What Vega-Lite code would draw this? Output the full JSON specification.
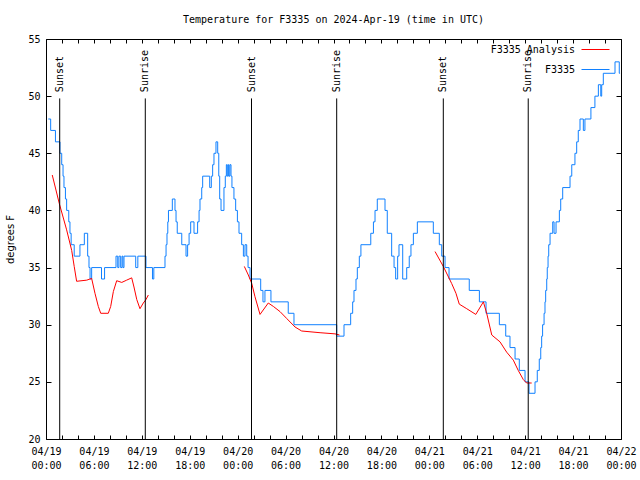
{
  "$schema": "https://vega.github.io/schema/vega-lite/v6.json",
  "width": 575,
  "height": 400,
  "autosize": {"type": "none"},
  "padding": {"left": 46, "top": 39, "right": 19, "bottom": 41},
  "background": "white",
  "title": {"text": "Temperature for F3335 on 2024-Apr-19 (time in UTC)", "font": "DejaVu Sans Mono", "fontSize": 10, "fontWeight": "normal", "color": "black", "anchor": "middle", "offset": 9},
  "config": {
    "view": {"stroke": "black", "strokeWidth": 1},
    "font": "DejaVu Sans Mono",
    "axis": {"grid": false, "domain": false, "labelFont": "DejaVu Sans Mono", "labelFontSize": 10, "labelColor": "black", "tickColor": "black", "tickWidth": 1}
  },
  "datasets": {
    "obs": [
      {"time": "2024-04-19T00:17Z", "temp": 48, "series": "F3335"},
      {"time": "2024-04-19T00:35Z", "temp": 47, "series": "F3335"},
      {"time": "2024-04-19T01:11Z", "temp": 46, "series": "F3335"},
      {"time": "2024-04-19T01:45Z", "temp": 45, "series": "F3335"},
      {"time": "2024-04-19T01:58Z", "temp": 44, "series": "F3335"},
      {"time": "2024-04-19T02:08Z", "temp": 43, "series": "F3335"},
      {"time": "2024-04-19T02:15Z", "temp": 42, "series": "F3335"},
      {"time": "2024-04-19T02:26Z", "temp": 41, "series": "F3335"},
      {"time": "2024-04-19T02:35Z", "temp": 40, "series": "F3335"},
      {"time": "2024-04-19T02:51Z", "temp": 39, "series": "F3335"},
      {"time": "2024-04-19T03:00Z", "temp": 38, "series": "F3335"},
      {"time": "2024-04-19T03:09Z", "temp": 37, "series": "F3335"},
      {"time": "2024-04-19T03:32Z", "temp": 36, "series": "F3335"},
      {"time": "2024-04-19T04:15Z", "temp": 37, "series": "F3335"},
      {"time": "2024-04-19T04:48Z", "temp": 38, "series": "F3335"},
      {"time": "2024-04-19T05:13Z", "temp": 36, "series": "F3335"},
      {"time": "2024-04-19T05:23Z", "temp": 35, "series": "F3335"},
      {"time": "2024-04-19T05:31Z", "temp": 34, "series": "F3335"},
      {"time": "2024-04-19T05:43Z", "temp": 35, "series": "F3335"},
      {"time": "2024-04-19T06:57Z", "temp": 34, "series": "F3335"},
      {"time": "2024-04-19T07:20Z", "temp": 35, "series": "F3335"},
      {"time": "2024-04-19T08:46Z", "temp": 36, "series": "F3335"},
      {"time": "2024-04-19T08:59Z", "temp": 35, "series": "F3335"},
      {"time": "2024-04-19T09:08Z", "temp": 36, "series": "F3335"},
      {"time": "2024-04-19T09:21Z", "temp": 35, "series": "F3335"},
      {"time": "2024-04-19T09:31Z", "temp": 36, "series": "F3335"},
      {"time": "2024-04-19T09:38Z", "temp": 35, "series": "F3335"},
      {"time": "2024-04-19T09:46Z", "temp": 36, "series": "F3335"},
      {"time": "2024-04-19T11:14Z", "temp": 35, "series": "F3335"},
      {"time": "2024-04-19T11:30Z", "temp": 36, "series": "F3335"},
      {"time": "2024-04-19T12:31Z", "temp": 35, "series": "F3335"},
      {"time": "2024-04-19T13:20Z", "temp": 34, "series": "F3335"},
      {"time": "2024-04-19T13:30Z", "temp": 35, "series": "F3335"},
      {"time": "2024-04-19T14:54Z", "temp": 36, "series": "F3335"},
      {"time": "2024-04-19T15:02Z", "temp": 37, "series": "F3335"},
      {"time": "2024-04-19T15:09Z", "temp": 38, "series": "F3335"},
      {"time": "2024-04-19T15:15Z", "temp": 39, "series": "F3335"},
      {"time": "2024-04-19T15:20Z", "temp": 40, "series": "F3335"},
      {"time": "2024-04-19T15:49Z", "temp": 41, "series": "F3335"},
      {"time": "2024-04-19T16:09Z", "temp": 40, "series": "F3335"},
      {"time": "2024-04-19T16:17Z", "temp": 39, "series": "F3335"},
      {"time": "2024-04-19T16:26Z", "temp": 38, "series": "F3335"},
      {"time": "2024-04-19T17:00Z", "temp": 37, "series": "F3335"},
      {"time": "2024-04-19T17:32Z", "temp": 36, "series": "F3335"},
      {"time": "2024-04-19T17:44Z", "temp": 37, "series": "F3335"},
      {"time": "2024-04-19T17:55Z", "temp": 38, "series": "F3335"},
      {"time": "2024-04-19T18:07Z", "temp": 39, "series": "F3335"},
      {"time": "2024-04-19T18:32Z", "temp": 38, "series": "F3335"},
      {"time": "2024-04-19T18:59Z", "temp": 39, "series": "F3335"},
      {"time": "2024-04-19T19:10Z", "temp": 40, "series": "F3335"},
      {"time": "2024-04-19T19:17Z", "temp": 41, "series": "F3335"},
      {"time": "2024-04-19T19:30Z", "temp": 42, "series": "F3335"},
      {"time": "2024-04-19T19:37Z", "temp": 43, "series": "F3335"},
      {"time": "2024-04-19T20:30Z", "temp": 42, "series": "F3335"},
      {"time": "2024-04-19T20:42Z", "temp": 43, "series": "F3335"},
      {"time": "2024-04-19T20:52Z", "temp": 44, "series": "F3335"},
      {"time": "2024-04-19T21:02Z", "temp": 45, "series": "F3335"},
      {"time": "2024-04-19T21:17Z", "temp": 46, "series": "F3335"},
      {"time": "2024-04-19T21:30Z", "temp": 45, "series": "F3335"},
      {"time": "2024-04-19T21:38Z", "temp": 43, "series": "F3335"},
      {"time": "2024-04-19T21:45Z", "temp": 41, "series": "F3335"},
      {"time": "2024-04-19T21:55Z", "temp": 40, "series": "F3335"},
      {"time": "2024-04-19T22:17Z", "temp": 42, "series": "F3335"},
      {"time": "2024-04-19T22:27Z", "temp": 43, "series": "F3335"},
      {"time": "2024-04-19T22:35Z", "temp": 44, "series": "F3335"},
      {"time": "2024-04-19T22:42Z", "temp": 43, "series": "F3335"},
      {"time": "2024-04-19T22:50Z", "temp": 44, "series": "F3335"},
      {"time": "2024-04-19T22:55Z", "temp": 43, "series": "F3335"},
      {"time": "2024-04-19T23:02Z", "temp": 44, "series": "F3335"},
      {"time": "2024-04-19T23:10Z", "temp": 43, "series": "F3335"},
      {"time": "2024-04-19T23:17Z", "temp": 42, "series": "F3335"},
      {"time": "2024-04-19T23:32Z", "temp": 41, "series": "F3335"},
      {"time": "2024-04-19T23:45Z", "temp": 40, "series": "F3335"},
      {"time": "2024-04-19T23:58Z", "temp": 39, "series": "F3335"},
      {"time": "2024-04-20T00:10Z", "temp": 38, "series": "F3335"},
      {"time": "2024-04-20T00:30Z", "temp": 37, "series": "F3335"},
      {"time": "2024-04-20T00:43Z", "temp": 36, "series": "F3335"},
      {"time": "2024-04-20T00:55Z", "temp": 37, "series": "F3335"},
      {"time": "2024-04-20T01:08Z", "temp": 36, "series": "F3335"},
      {"time": "2024-04-20T01:18Z", "temp": 35, "series": "F3335"},
      {"time": "2024-04-20T01:33Z", "temp": 34, "series": "F3335"},
      {"time": "2024-04-20T02:53Z", "temp": 33, "series": "F3335"},
      {"time": "2024-04-20T03:10Z", "temp": 32, "series": "F3335"},
      {"time": "2024-04-20T03:25Z", "temp": 33, "series": "F3335"},
      {"time": "2024-04-20T04:10Z", "temp": 32, "series": "F3335"},
      {"time": "2024-04-20T06:20Z", "temp": 31, "series": "F3335"},
      {"time": "2024-04-20T07:03Z", "temp": 30, "series": "F3335"},
      {"time": "2024-04-20T12:24Z", "temp": 29, "series": "F3335"},
      {"time": "2024-04-20T13:19Z", "temp": 30, "series": "F3335"},
      {"time": "2024-04-20T14:09Z", "temp": 31, "series": "F3335"},
      {"time": "2024-04-20T14:24Z", "temp": 32, "series": "F3335"},
      {"time": "2024-04-20T14:34Z", "temp": 33, "series": "F3335"},
      {"time": "2024-04-20T14:49Z", "temp": 34, "series": "F3335"},
      {"time": "2024-04-20T14:59Z", "temp": 35, "series": "F3335"},
      {"time": "2024-04-20T15:14Z", "temp": 36, "series": "F3335"},
      {"time": "2024-04-20T15:26Z", "temp": 37, "series": "F3335"},
      {"time": "2024-04-20T16:40Z", "temp": 38, "series": "F3335"},
      {"time": "2024-04-20T17:00Z", "temp": 39, "series": "F3335"},
      {"time": "2024-04-20T17:12Z", "temp": 40, "series": "F3335"},
      {"time": "2024-04-20T17:29Z", "temp": 41, "series": "F3335"},
      {"time": "2024-04-20T18:27Z", "temp": 40, "series": "F3335"},
      {"time": "2024-04-20T18:44Z", "temp": 38, "series": "F3335"},
      {"time": "2024-04-20T19:17Z", "temp": 36, "series": "F3335"},
      {"time": "2024-04-20T19:35Z", "temp": 35, "series": "F3335"},
      {"time": "2024-04-20T19:47Z", "temp": 34, "series": "F3335"},
      {"time": "2024-04-20T20:02Z", "temp": 36, "series": "F3335"},
      {"time": "2024-04-20T20:12Z", "temp": 37, "series": "F3335"},
      {"time": "2024-04-20T20:40Z", "temp": 34, "series": "F3335"},
      {"time": "2024-04-20T21:10Z", "temp": 35, "series": "F3335"},
      {"time": "2024-04-20T21:29Z", "temp": 36, "series": "F3335"},
      {"time": "2024-04-20T21:42Z", "temp": 37, "series": "F3335"},
      {"time": "2024-04-20T22:00Z", "temp": 38, "series": "F3335"},
      {"time": "2024-04-20T22:30Z", "temp": 39, "series": "F3335"},
      {"time": "2024-04-21T00:30Z", "temp": 38, "series": "F3335"},
      {"time": "2024-04-21T01:15Z", "temp": 37, "series": "F3335"},
      {"time": "2024-04-21T01:33Z", "temp": 36, "series": "F3335"},
      {"time": "2024-04-21T01:58Z", "temp": 35, "series": "F3335"},
      {"time": "2024-04-21T02:28Z", "temp": 34, "series": "F3335"},
      {"time": "2024-04-21T05:00Z", "temp": 33, "series": "F3335"},
      {"time": "2024-04-21T06:16Z", "temp": 32, "series": "F3335"},
      {"time": "2024-04-21T07:06Z", "temp": 31, "series": "F3335"},
      {"time": "2024-04-21T08:46Z", "temp": 30, "series": "F3335"},
      {"time": "2024-04-21T09:34Z", "temp": 29, "series": "F3335"},
      {"time": "2024-04-21T10:06Z", "temp": 28, "series": "F3335"},
      {"time": "2024-04-21T10:44Z", "temp": 27, "series": "F3335"},
      {"time": "2024-04-21T11:16Z", "temp": 26, "series": "F3335"},
      {"time": "2024-04-21T11:59Z", "temp": 25, "series": "F3335"},
      {"time": "2024-04-21T12:29Z", "temp": 24, "series": "F3335"},
      {"time": "2024-04-21T13:14Z", "temp": 25, "series": "F3335"},
      {"time": "2024-04-21T13:31Z", "temp": 26, "series": "F3335"},
      {"time": "2024-04-21T13:46Z", "temp": 27, "series": "F3335"},
      {"time": "2024-04-21T13:57Z", "temp": 28, "series": "F3335"},
      {"time": "2024-04-21T14:04Z", "temp": 29, "series": "F3335"},
      {"time": "2024-04-21T14:11Z", "temp": 30, "series": "F3335"},
      {"time": "2024-04-21T14:22Z", "temp": 31, "series": "F3335"},
      {"time": "2024-04-21T14:29Z", "temp": 32, "series": "F3335"},
      {"time": "2024-04-21T14:34Z", "temp": 33, "series": "F3335"},
      {"time": "2024-04-21T14:42Z", "temp": 34, "series": "F3335"},
      {"time": "2024-04-21T14:46Z", "temp": 35, "series": "F3335"},
      {"time": "2024-04-21T14:52Z", "temp": 36, "series": "F3335"},
      {"time": "2024-04-21T14:57Z", "temp": 37, "series": "F3335"},
      {"time": "2024-04-21T15:07Z", "temp": 38, "series": "F3335"},
      {"time": "2024-04-21T15:27Z", "temp": 39, "series": "F3335"},
      {"time": "2024-04-21T15:37Z", "temp": 38, "series": "F3335"},
      {"time": "2024-04-21T15:52Z", "temp": 39, "series": "F3335"},
      {"time": "2024-04-21T16:17Z", "temp": 40, "series": "F3335"},
      {"time": "2024-04-21T16:27Z", "temp": 41, "series": "F3335"},
      {"time": "2024-04-21T16:42Z", "temp": 42, "series": "F3335"},
      {"time": "2024-04-21T17:37Z", "temp": 43, "series": "F3335"},
      {"time": "2024-04-21T17:50Z", "temp": 44, "series": "F3335"},
      {"time": "2024-04-21T18:14Z", "temp": 45, "series": "F3335"},
      {"time": "2024-04-21T18:27Z", "temp": 46, "series": "F3335"},
      {"time": "2024-04-21T18:39Z", "temp": 47, "series": "F3335"},
      {"time": "2024-04-21T18:52Z", "temp": 48, "series": "F3335"},
      {"time": "2024-04-21T19:17Z", "temp": 47, "series": "F3335"},
      {"time": "2024-04-21T19:29Z", "temp": 48, "series": "F3335"},
      {"time": "2024-04-21T20:14Z", "temp": 49, "series": "F3335"},
      {"time": "2024-04-21T20:44Z", "temp": 50, "series": "F3335"},
      {"time": "2024-04-21T21:10Z", "temp": 51, "series": "F3335"},
      {"time": "2024-04-21T21:28Z", "temp": 50, "series": "F3335"},
      {"time": "2024-04-21T21:35Z", "temp": 51, "series": "F3335"},
      {"time": "2024-04-21T21:47Z", "temp": 52, "series": "F3335"},
      {"time": "2024-04-21T23:15Z", "temp": 53, "series": "F3335"},
      {"time": "2024-04-21T23:47Z", "temp": 52, "series": "F3335"},
      {"time": "2024-04-21T23:53Z", "temp": 52, "series": "F3335"}
    ],
    "analysis": [
      {"time": "2024-04-19T00:47Z", "temp": 43.1, "seg": 1, "series": "F3335 Analysis"},
      {"time": "2024-04-19T01:40Z", "temp": 40.6, "seg": 1, "series": "F3335 Analysis"},
      {"time": "2024-04-19T02:35Z", "temp": 38.3, "seg": 1, "series": "F3335 Analysis"},
      {"time": "2024-04-19T03:13Z", "temp": 36.5, "seg": 1, "series": "F3335 Analysis"},
      {"time": "2024-04-19T03:32Z", "temp": 35.1, "seg": 1, "series": "F3335 Analysis"},
      {"time": "2024-04-19T03:50Z", "temp": 33.8, "seg": 1, "series": "F3335 Analysis"},
      {"time": "2024-04-19T05:06Z", "temp": 33.9, "seg": 1, "series": "F3335 Analysis"},
      {"time": "2024-04-19T05:43Z", "temp": 34.05, "seg": 1, "series": "F3335 Analysis"},
      {"time": "2024-04-19T06:08Z", "temp": 32.75, "seg": 1, "series": "F3335 Analysis"},
      {"time": "2024-04-19T06:33Z", "temp": 31.6, "seg": 1, "series": "F3335 Analysis"},
      {"time": "2024-04-19T06:51Z", "temp": 31.0, "seg": 1, "series": "F3335 Analysis"},
      {"time": "2024-04-19T07:48Z", "temp": 31.0, "seg": 1, "series": "F3335 Analysis"},
      {"time": "2024-04-19T08:06Z", "temp": 31.6, "seg": 1, "series": "F3335 Analysis"},
      {"time": "2024-04-19T08:26Z", "temp": 32.9, "seg": 1, "series": "F3335 Analysis"},
      {"time": "2024-04-19T08:51Z", "temp": 33.85, "seg": 1, "series": "F3335 Analysis"},
      {"time": "2024-04-19T09:29Z", "temp": 33.7, "seg": 1, "series": "F3335 Analysis"},
      {"time": "2024-04-19T10:06Z", "temp": 33.9, "seg": 1, "series": "F3335 Analysis"},
      {"time": "2024-04-19T10:44Z", "temp": 34.1, "seg": 1, "series": "F3335 Analysis"},
      {"time": "2024-04-19T11:01Z", "temp": 33.3, "seg": 1, "series": "F3335 Analysis"},
      {"time": "2024-04-19T11:22Z", "temp": 32.2, "seg": 1, "series": "F3335 Analysis"},
      {"time": "2024-04-19T11:46Z", "temp": 31.4, "seg": 1, "series": "F3335 Analysis"},
      {"time": "2024-04-19T12:11Z", "temp": 31.9, "seg": 1, "series": "F3335 Analysis"},
      {"time": "2024-04-19T12:31Z", "temp": 32.2, "seg": 1, "series": "F3335 Analysis"},
      {"time": "2024-04-19T12:49Z", "temp": 32.6, "seg": 1, "series": "F3335 Analysis"},
      {"time": "2024-04-20T00:50Z", "temp": 35.1, "seg": 2, "series": "F3335 Analysis"},
      {"time": "2024-04-20T01:20Z", "temp": 34.35, "seg": 2, "series": "F3335 Analysis"},
      {"time": "2024-04-20T01:46Z", "temp": 33.6, "seg": 2, "series": "F3335 Analysis"},
      {"time": "2024-04-20T02:10Z", "temp": 32.45, "seg": 2, "series": "F3335 Analysis"},
      {"time": "2024-04-20T02:48Z", "temp": 30.9, "seg": 2, "series": "F3335 Analysis"},
      {"time": "2024-04-20T03:50Z", "temp": 31.9, "seg": 2, "series": "F3335 Analysis"},
      {"time": "2024-04-20T04:28Z", "temp": 31.6, "seg": 2, "series": "F3335 Analysis"},
      {"time": "2024-04-20T05:18Z", "temp": 31.15, "seg": 2, "series": "F3335 Analysis"},
      {"time": "2024-04-20T06:08Z", "temp": 30.55, "seg": 2, "series": "F3335 Analysis"},
      {"time": "2024-04-20T07:11Z", "temp": 29.8, "seg": 2, "series": "F3335 Analysis"},
      {"time": "2024-04-20T08:01Z", "temp": 29.45, "seg": 2, "series": "F3335 Analysis"},
      {"time": "2024-04-20T10:19Z", "temp": 29.3, "seg": 2, "series": "F3335 Analysis"},
      {"time": "2024-04-20T12:11Z", "temp": 29.2, "seg": 2, "series": "F3335 Analysis"},
      {"time": "2024-04-20T12:45Z", "temp": 29.1, "seg": 2, "series": "F3335 Analysis"},
      {"time": "2024-04-21T00:43Z", "temp": 36.4, "seg": 3, "series": "F3335 Analysis"},
      {"time": "2024-04-21T01:45Z", "temp": 35.1, "seg": 3, "series": "F3335 Analysis"},
      {"time": "2024-04-21T02:48Z", "temp": 33.6, "seg": 3, "series": "F3335 Analysis"},
      {"time": "2024-04-21T03:20Z", "temp": 32.75, "seg": 3, "series": "F3335 Analysis"},
      {"time": "2024-04-21T03:45Z", "temp": 31.8, "seg": 3, "series": "F3335 Analysis"},
      {"time": "2024-04-21T04:41Z", "temp": 31.4, "seg": 3, "series": "F3335 Analysis"},
      {"time": "2024-04-21T05:49Z", "temp": 30.9, "seg": 3, "series": "F3335 Analysis"},
      {"time": "2024-04-21T06:46Z", "temp": 32.0, "seg": 3, "series": "F3335 Analysis"},
      {"time": "2024-04-21T07:11Z", "temp": 31.0, "seg": 3, "series": "F3335 Analysis"},
      {"time": "2024-04-21T07:49Z", "temp": 29.1, "seg": 3, "series": "F3335 Analysis"},
      {"time": "2024-04-21T08:51Z", "temp": 28.5, "seg": 3, "series": "F3335 Analysis"},
      {"time": "2024-04-21T09:41Z", "temp": 27.6, "seg": 3, "series": "F3335 Analysis"},
      {"time": "2024-04-21T10:31Z", "temp": 26.9, "seg": 3, "series": "F3335 Analysis"},
      {"time": "2024-04-21T11:08Z", "temp": 26.0, "seg": 3, "series": "F3335 Analysis"},
      {"time": "2024-04-21T11:46Z", "temp": 25.2, "seg": 3, "series": "F3335 Analysis"},
      {"time": "2024-04-21T12:11Z", "temp": 24.9, "seg": 3, "series": "F3335 Analysis"},
      {"time": "2024-04-21T12:49Z", "temp": 24.9, "seg": 3, "series": "F3335 Analysis"}
    ],
    "sun": [
      {"time": "2024-04-19T01:43Z", "event": "Sunset"},
      {"time": "2024-04-19T12:26Z", "event": "Sunrise"},
      {"time": "2024-04-20T01:44Z", "event": "Sunset"},
      {"time": "2024-04-20T12:24Z", "event": "Sunrise"},
      {"time": "2024-04-21T01:45Z", "event": "Sunset"},
      {"time": "2024-04-21T12:23Z", "event": "Sunrise"}
    ]
  },
  "layer": [
    {
      "data": {"name": "obs"},
      "mark": {"type": "line", "interpolate": "step-after", "strokeWidth": 1},
      "encoding": {
        "x": {"field": "time", "type": "temporal",
          "scale": {"type": "utc", "domain": [1713484800000, 1713744000000]},
          "axis": {"orient": "bottom", "title": null, "values": [1713484800000, 1713492000000, 1713499200000, 1713506400000, 1713513600000, 1713520800000, 1713528000000, 1713535200000, 1713542400000, 1713549600000, 1713556800000, 1713564000000, 1713571200000, 1713578400000, 1713585600000, 1713592800000, 1713600000000, 1713607200000, 1713614400000, 1713621600000, 1713628800000, 1713636000000, 1713643200000, 1713650400000, 1713657600000, 1713664800000, 1713672000000, 1713679200000, 1713686400000, 1713693600000, 1713700800000, 1713708000000, 1713715200000, 1713722400000, 1713729600000, 1713736800000, 1713744000000], "labelExpr": "utchours(datum.value) % 6 == 0 ? [utcFormat(datum.value, '%m/%d'), utcFormat(datum.value, '%H:%M')] : ''", "labelOverlap": false, "labelFlush": false, "labelBound": false, "labelAngle": 0, "tickSize": -4, "labelPadding": 11, "labelLineHeight": 14}},
        "y": {"field": "temp", "type": "quantitative",
          "scale": {"domain": [20, 55], "nice": false, "zero": false},
          "axis": {"orient": "left", "values": [20, 25, 30, 35, 40, 45, 50, 55], "tickSize": -5, "labelPadding": 11, "title": "degrees F", "titleFont": "DejaVu Sans", "titleFontSize": 10, "titleFontWeight": "normal", "titleColor": "black", "titlePadding": 12}},
        "color": {"field": "series", "type": "nominal",
          "scale": {"domain": ["F3335 Analysis", "F3335"], "range": ["#ff0000", "#1080ff"]},
          "legend": {"orient": "none", "legendX": 535, "legendY": -4, "title": null, "symbolType": "stroke", "symbolSize": 784, "symbolStrokeWidth": 1, "labelAlign": "right", "labelOffset": -35, "labelFont": "DejaVu Sans Mono", "labelFontSize": 10, "labelColor": "black", "padding": 0, "rowPadding": -9}}
      }
    },
    {
      "data": {"name": "analysis"},
      "mark": {"type": "line", "strokeWidth": 1},
      "encoding": {
        "x": {"field": "time", "type": "temporal",
          "axis": {"orient": "top", "title": null, "labels": false, "values": [1713484800000, 1713492000000, 1713499200000, 1713506400000, 1713513600000, 1713520800000, 1713528000000, 1713535200000, 1713542400000, 1713549600000, 1713556800000, 1713564000000, 1713571200000, 1713578400000, 1713585600000, 1713592800000, 1713600000000, 1713607200000, 1713614400000, 1713621600000, 1713628800000, 1713636000000, 1713643200000, 1713650400000, 1713657600000, 1713664800000, 1713672000000, 1713679200000, 1713686400000, 1713693600000, 1713700800000, 1713708000000, 1713715200000, 1713722400000, 1713729600000, 1713736800000, 1713744000000], "tickSize": -4}},
        "y": {"field": "temp", "type": "quantitative",
          "axis": {"orient": "right", "title": null, "labels": false, "values": [20, 25, 30, 35, 40, 45, 50, 55], "tickSize": -5}},
        "color": {"field": "series", "type": "nominal"},
        "detail": {"field": "seg", "type": "nominal"}
      }
    },
    {
      "data": {"name": "sun"},
      "mark": {"type": "rule", "color": "black", "strokeWidth": 1},
      "encoding": {
        "x": {"field": "time", "type": "temporal", "axis": null},
        "y": {"datum": 49.8, "axis": null},
        "y2": {"datum": 20}
      }
    },
    {
      "data": {"name": "sun"},
      "mark": {"type": "text", "angle": 270, "align": "left", "baseline": "middle", "font": "DejaVu Sans Mono", "fontSize": 10, "color": "black"},
      "encoding": {
        "x": {"field": "time", "type": "temporal", "axis": null},
        "y": {"datum": 50.35, "axis": null},
        "text": {"field": "event"}
      }
    }
  ],
  "resolve": {"axis": {"x": "independent", "y": "independent"}}
}
